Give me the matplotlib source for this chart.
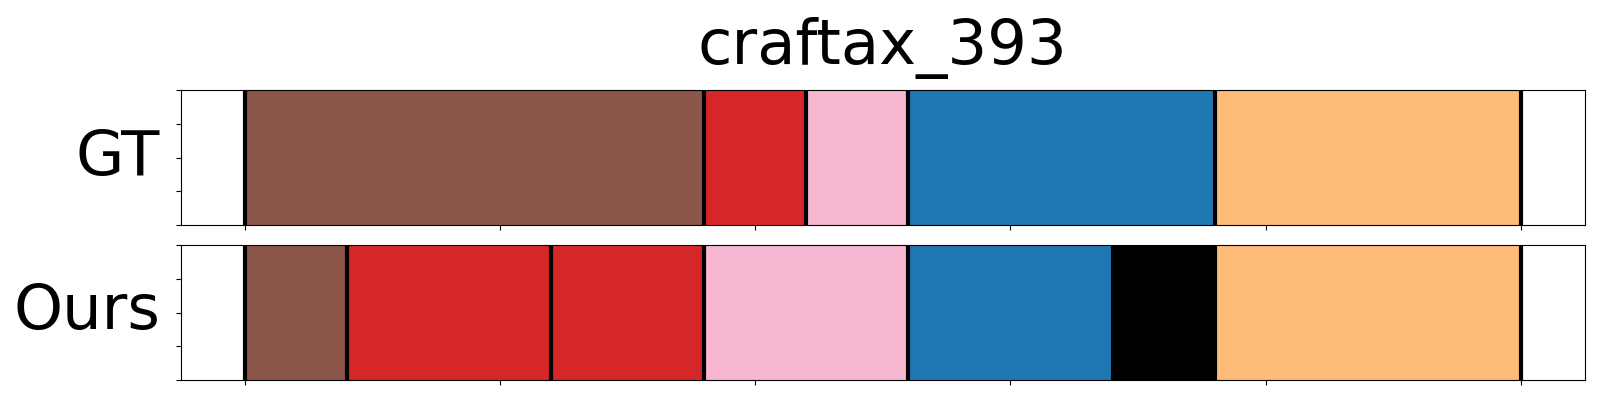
import numpy as np
import matplotlib
matplotlib.use("Agg")
import matplotlib.pyplot as plt

# segment boundaries (frame index) and class ids per segment
gt_bounds = [0, 180, 220, 260, 380, 500]
gt_labels = [10, 6, 13, 0, 3]

ours_bounds = [0, 40, 120, 180, 260, 340, 380, 500]
ours_labels = [10, 6, 6, 13, 0, -1, 3]

row_names = ["GT", "Ours"]
title = "craftax_393"


def seg_color(lbl):
    # -1 = unmatched / background -> black, otherwise tab20 colour
    if lbl < 0:
        return "black"
    return plt.get_cmap("tab20")(lbl)


def draw_row(ax, bounds, labels, name):
    for i, lbl in enumerate(labels):
        ax.axvspan(bounds[i], bounds[i + 1], ymin=0, ymax=1,
                   color=seg_color(lbl), linewidth=0)
    for b in bounds:
        ax.axvline(b, color="black", linewidth=3)
    ax.set_xlim(-25, 525)
    ax.set_ylim(0, 1)
    ax.set_xticks(np.arange(0, 501, 100))
    ax.set_xticklabels([])
    ax.set_yticks(np.linspace(0, 1, 5))
    ax.set_yticklabels([])
    ax.set_ylabel(name, fontsize=45, rotation=0, ha="right", va="center", labelpad=8)


fig = plt.figure(figsize=(16, 4), dpi=100)
ax1 = fig.add_axes([0.113, 0.4375, 0.8775, 0.3375])
ax2 = fig.add_axes([0.113, 0.05, 0.8775, 0.3375])

draw_row(ax1, gt_bounds, gt_labels, row_names[0])
draw_row(ax2, ours_bounds, ours_labels, row_names[1])
ax1.set_title(title, fontsize=45, pad=19)

fig.savefig("out.png", dpi=100)
